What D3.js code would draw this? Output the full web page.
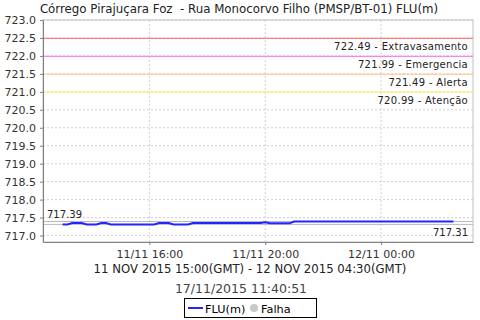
<!DOCTYPE html>
<html><head><meta charset="utf-8">
<script src="https://cdn.jsdelivr.net/npm/d3@7"></script>
<style>body{margin:0;background:#fff}svg{display:block;font-family:"DejaVu Sans",sans-serif}text{white-space:pre}</style>
</head><body><svg id="c" width="480" height="320"></svg>
<script>
const title = "Córrego Pirajuçara Foz  - Rua Monocorvo Filho (PMSP/BT-01) FLU(m)";
const subtitle = "11 NOV 2015 15:00(GMT) - 12 NOV 2015 04:30(GMT)";
const stamp = "17/11/2015 11:40:51";
const startTime = "2015-11-11T13:00";
const endTime = "2015-11-12T02:30";
const values = [
 717.31,717.31,717.35,717.35,717.35,717.31,717.31,717.31,717.35,717.35,
 717.31,717.31,717.31,717.31,717.31,717.31,717.31,717.31,717.31,717.31,
 717.35,717.35,717.35,717.31,717.31,717.31,717.31,
 717.35,717.35,717.35,717.35,717.35,717.35,717.35,717.35,717.35,717.35,717.35,717.35,717.35,717.35,717.35,
 717.37,717.34,717.34,717.34,717.34,717.34,
 717.39,717.39,717.39,717.39,717.39,717.39,717.39,717.39,717.39,717.39,
 717.39,717.39,717.39,717.39,717.39,717.39,717.39,717.39,717.39,717.39,
 717.39,717.39,717.39,717.39,717.39,717.39,717.39,717.39,717.39,717.39,
 717.39,717.39,717.39,717.39
];
const thresholdValues = [722.49, 721.99, 721.49, 720.99];
const thresholdNames = ["Extravasamento", "Emergencia", "Alerta", "Atenção"];
const thresholdColors = ["#ff8080", "#ff80ff", "#ffc880", "#fff080"];
const yTicks = [717.0,717.5,718.0,718.5,719.0,719.5,720.0,720.5,721.0,721.5,722.0,722.5,723.0];
const xTicks = ["2015-11-11T16:00","2015-11-11T20:00","2015-11-12T00:00"];
const legendItems = ["FLU(m)", "Falha"];

const parse = d3.timeParse("%Y-%m-%dT%H:%M");
const t0 = parse(startTime);
const data = values.map((v,i)=>({t:new Date(t0.getTime()+i*600000), v}));
const t1 = parse(endTime);
const span = t1 - t0;

const L=43, R=473, T=20, B=242;
const svg = d3.select("#c");
const x = d3.scaleTime().domain([new Date(+t0-span*0.05), new Date(+t1+span*0.05)]).range([L,R]);
const y = d3.scaleLinear().domain([716.82, 723.0]).range([B,T]);

// grid
const g = svg.append("g");
g.selectAll(".hg").data(yTicks).join("line")
 .attr("x1",L).attr("x2",R).attr("y1",d=>y(d)).attr("y2",d=>y(d))
 .attr("stroke","#d0d0d0").attr("stroke-dasharray","2,2").attr("stroke-width",1);
g.selectAll(".vg").data(xTicks).join("line")
 .attr("x1",d=>x(parse(d))).attr("x2",d=>x(parse(d))).attr("y1",T).attr("y2",B)
 .attr("stroke","#d0d0d0").attr("stroke-dasharray","2,2").attr("stroke-width",1);

svg.append("rect").attr("x",L).attr("y",T).attr("width",R-L).attr("height",B-T)
 .attr("fill","none").attr("stroke","#c0c0c0");

// thresholds
thresholdValues.forEach((v,i)=>{
  svg.append("line").attr("x1",L).attr("x2",R).attr("y1",y(v)).attr("y2",y(v))
   .attr("stroke",thresholdColors[i]).attr("stroke-width",1.2);
  svg.append("text").attr("x",468).attr("y",y(v)+12).attr("text-anchor","end")
   .attr("font-size","10px").attr("fill","#222").attr("letter-spacing","0.3")
   .text(v.toFixed(2)+" - "+thresholdNames[i]);
});

// max/min
const vmax = d3.max(values), vmin = d3.min(values);
[vmax, vmin].forEach(v=>{
  svg.append("line").attr("x1",L).attr("x2",R).attr("y1",y(v)).attr("y2",y(v))
   .attr("stroke","#b8b8b8").attr("stroke-width",1);
});
svg.append("text").attr("x",47).attr("y",y(vmax)-4).attr("font-size","10px").attr("fill","#222").text(vmax.toFixed(2));
svg.append("text").attr("x",468).attr("y",y(vmin)+12).attr("text-anchor","end").attr("font-size","10px").attr("fill","#222").text(vmin.toFixed(2));

// line
svg.append("path").datum(data).attr("fill","none").attr("stroke","#2424ff").attr("stroke-width",2)
 .attr("d", d3.line().x(d=>x(d.t)).y(d=>y(d.v)));

// axes
const ya = svg.append("g").attr("transform",`translate(${L},0)`)
 .call(d3.axisLeft(y).tickValues(yTicks).tickFormat(d3.format(".1f")).tickSize(3).tickSizeOuter(0));
ya.select(".domain").attr("stroke","#808080");
ya.selectAll(".tick line").attr("stroke","#808080");
ya.selectAll("text").attr("font-size","11px").attr("fill","#333").attr("font-family","DejaVu Sans").attr("dx","-1");
const xa = svg.append("g").attr("transform",`translate(0,${B})`)
 .call(d3.axisBottom(x).tickValues(xTicks.map(parse)).tickFormat(d3.timeFormat("%d/%m %H:%M")).tickSize(3).tickSizeOuter(0));
xa.select(".domain").attr("stroke","#808080");
xa.selectAll(".tick line").attr("stroke","#808080");
xa.selectAll("text").attr("font-size","11px").attr("fill","#333").attr("font-family","DejaVu Sans").attr("dy","0.9em");

// titles
svg.append("text").attr("x",239).attr("y",13).attr("text-anchor","middle").attr("font-size","11.8px").attr("fill","#222").text(title);
svg.append("text").attr("x",250).attr("y",273).attr("text-anchor","middle").attr("font-size","11.7px").attr("fill","#222").text(subtitle);
svg.append("text").attr("x",241).attr("y",293).attr("text-anchor","middle").attr("font-size","12.5px").attr("fill","#444").text(stamp);

// legend
const lg = svg.append("g");
lg.append("rect").attr("x",184.5).attr("y",298.5).attr("width",132).attr("height",19).attr("fill","#fff").attr("stroke","#000");
lg.append("line").attr("x1",188).attr("x2",203).attr("y1",308).attr("y2",308).attr("stroke","#2424ff").attr("stroke-width",2);
lg.append("text").attr("x",205).attr("y",312.5).attr("font-size","11.3px").attr("fill","#000").text(legendItems[0]);
lg.append("circle").attr("cx",254).attr("cy",308).attr("r",4).attr("fill","#c8c8c8");
lg.append("text").attr("x",261).attr("y",312.5).attr("font-size","11.3px").attr("fill","#000").text(legendItems[1]);
</script></body></html>
